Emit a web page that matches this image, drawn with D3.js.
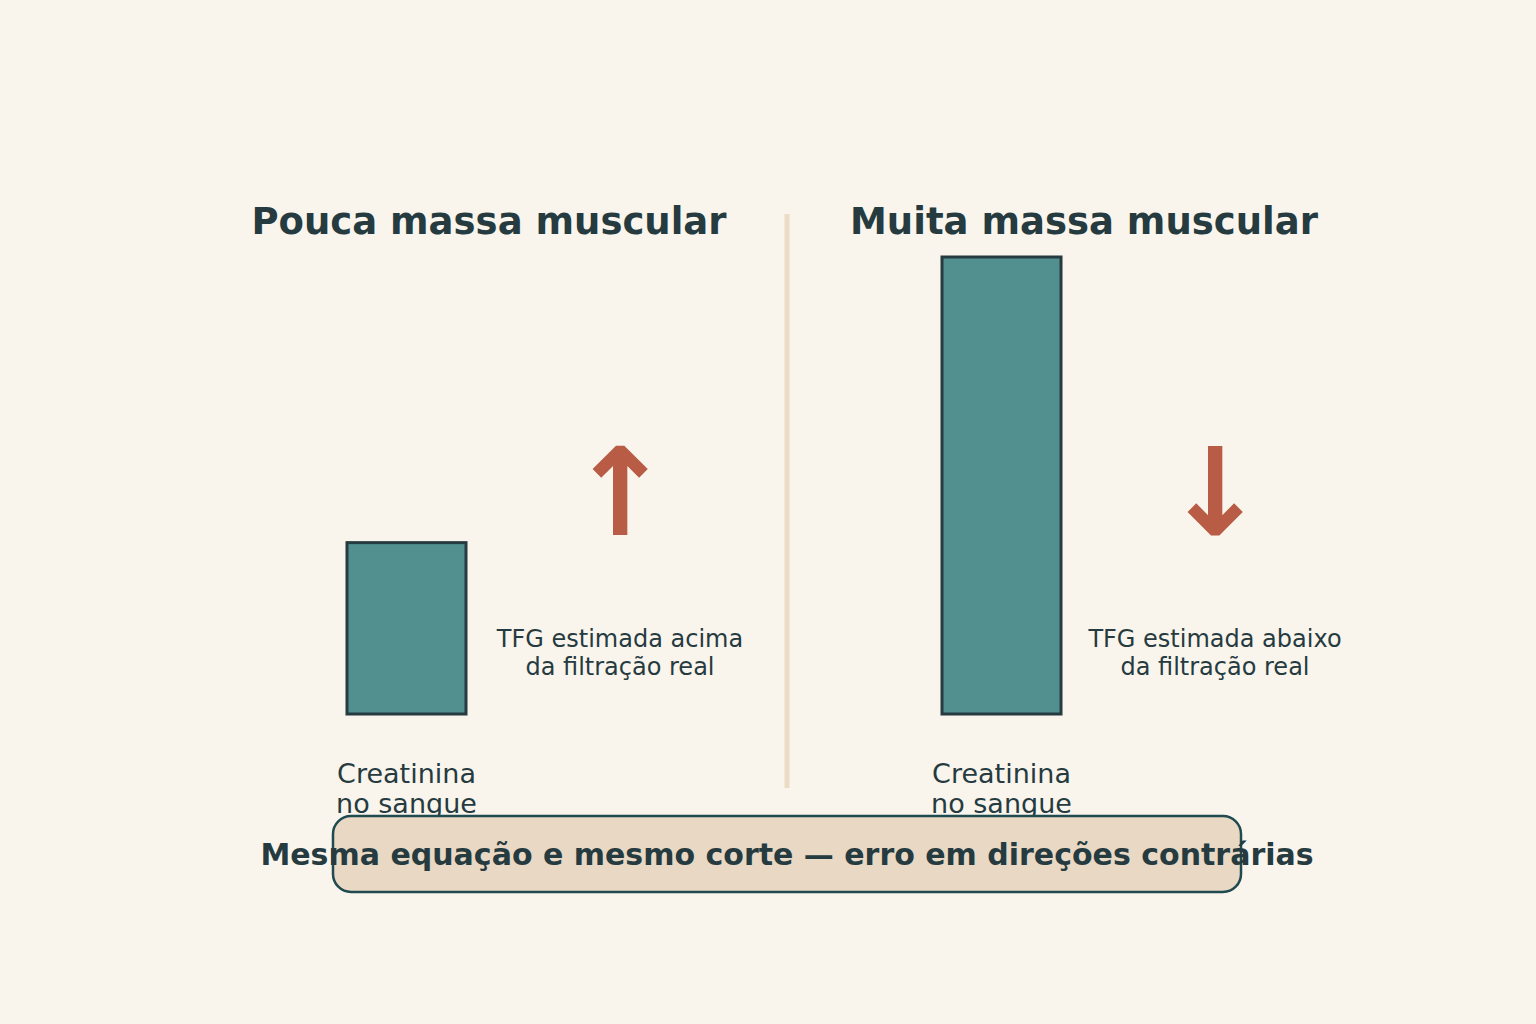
<!DOCTYPE html>
<html>
<head>
<meta charset="utf-8">
<script src="https://cdn.jsdelivr.net/npm/d3@7"></script>
<style>
  html, body { margin: 0; padding: 0; background: #f9f5ed; }
  svg { display: block; font-family: "DejaVu Sans", sans-serif; }
</style>
</head>
<body>
<svg id="chart"></svg>
<script>
  // data
  var panels = ["Pouca massa muscular", "Muita massa muscular"];
  var creatinine = [0.6, 1.6];
  var barLabel = ["Creatinina", "no sangue"];
  var arrows = ["↑", "↓"];
  var notes = [["TFG estimada acima", "da filtração real"], ["TFG estimada abaixo", "da filtração real"]];
  var footer = "Mesma equação e mesmo corte — erro em direções contrárias";

  var W = 1536, H = 1024;
  var ink = "#263b40";
  var svg = d3.select("#chart").attr("width", W).attr("height", H);

  svg.append("rect").attr("width", W).attr("height", H).attr("fill", "#f9f5ed");

  // one band per panel, bars sit at the left of each band
  var x = d3.scaleBand().domain(panels).range([288, 1478]).paddingInner(0).paddingOuter(0);
  var y = d3.scaleLinear().domain([0, 1.6]).range([714, 257]);
  var barW = 119;

  var g = svg.selectAll("g.panel").data(panels).enter().append("g").attr("class", "panel");

  g.append("text")
    .attr("x", function(d) { return x(d) + 201; })
    .attr("y", 234)
    .attr("text-anchor", "middle")
    .attr("font-size", 37).attr("font-weight", "bold").attr("fill", ink)
    .text(function(d) { return d; });

  g.append("rect")
    .attr("x", function(d) { return x(d) + 59; })
    .attr("y", function(d, i) { return y(creatinine[i]); })
    .attr("width", barW)
    .attr("height", function(d, i) { return y(0) - y(creatinine[i]); })
    .attr("fill", "#528f8f").attr("stroke", "#263b40").attr("stroke-width", 3);

  g.append("text")
    .attr("x", function(d) { return x(d) + 59 + barW / 2; })
    .attr("y", 783)
    .attr("text-anchor", "middle")
    .attr("font-size", 27).attr("fill", ink)
    .selectAll("tspan").data(barLabel).enter().append("tspan")
    .attr("x", function() { return d3.select(this.parentNode).attr("x"); })
    .attr("dy", function(d, i) { return i ? 30 : 0; })
    .text(function(d) { return d; });

  g.append("text")
    .attr("x", function(d) { return x(d) + 332; })
    .attr("y", 535)
    .attr("text-anchor", "middle")
    .attr("font-size", 122).attr("font-weight", "bold").attr("fill", "#b85c45")
    .text(function(d, i) { return arrows[i]; });

  g.append("text")
    .attr("x", function(d) { return x(d) + 332; })
    .attr("y", 647)
    .attr("text-anchor", "middle")
    .attr("font-size", 24).attr("fill", ink)
    .selectAll("tspan").data(function(d, i) { return notes[i]; }).enter().append("tspan")
    .attr("x", function() { return d3.select(this.parentNode).attr("x"); })
    .attr("dy", function(d, i) { return i ? 28 : 0; })
    .text(function(d) { return d; });

  // divider
  svg.append("line")
    .attr("x1", 787).attr("x2", 787).attr("y1", 214).attr("y2", 788)
    .attr("stroke", "#ecdcc6").attr("stroke-width", 5);

  // footer box
  svg.append("rect")
    .attr("x", 333).attr("y", 816).attr("width", 908).attr("height", 76).attr("rx", 18)
    .attr("fill", "#e8d8c4").attr("stroke", "#1f4a50").attr("stroke-width", 2.5);

  svg.append("text")
    .attr("x", 787).attr("y", 865)
    .attr("text-anchor", "middle")
    .attr("font-size", 30).attr("font-weight", "bold").attr("fill", ink)
    .text(footer);
</script>
</body>
</html>
